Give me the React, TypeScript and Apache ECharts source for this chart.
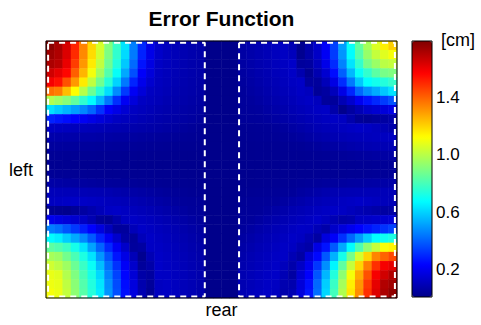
import React, { useEffect, useRef } from 'react';
import * as echarts from 'echarts';

// Error values [cm], rows from top to bottom.
// Left block: 19 columns (left edge -> left dashed boundary)
const leftBlock: number[][] = [
  [1.774, 1.722, 1.64, 1.508, 1.34, 1.195, 1.05, 0.905, 0.77, 0.63, 0.454, 0.3, 0.19, 0.135, 0.111, 0.1, 0.088, 0.079, 0.072],
  [1.738, 1.708, 1.629, 1.495, 1.329, 1.184, 1.04, 0.895, 0.762, 0.614, 0.444, 0.289, 0.19, 0.133, 0.111, 0.099, 0.088, 0.079, 0.072],
  [1.713, 1.69, 1.603, 1.461, 1.303, 1.158, 1.013, 0.868, 0.736, 0.583, 0.417, 0.264, 0.181, 0.124, 0.109, 0.098, 0.086, 0.078, 0.071],
  [1.652, 1.612, 1.558, 1.402, 1.253, 1.104, 0.959, 0.821, 0.689, 0.527, 0.369, 0.223, 0.166, 0.118, 0.106, 0.094, 0.084, 0.077, 0.07],
  [1.584, 1.541, 1.427, 1.303, 1.157, 1.013, 0.874, 0.744, 0.603, 0.443, 0.294, 0.196, 0.142, 0.113, 0.102, 0.09, 0.081, 0.074, 0.066],
  [1.375, 1.351, 1.238, 1.122, 0.993, 0.866, 0.749, 0.619, 0.474, 0.332, 0.213, 0.162, 0.118, 0.107, 0.096, 0.085, 0.078, 0.071, 0.064],
  [0.986, 0.95, 0.913, 0.846, 0.76, 0.674, 0.556, 0.437, 0.313, 0.211, 0.166, 0.12, 0.109, 0.099, 0.087, 0.08, 0.073, 0.066, 0.06],
  [0.626, 0.587, 0.547, 0.505, 0.466, 0.408, 0.317, 0.225, 0.188, 0.151, 0.118, 0.108, 0.097, 0.087, 0.08, 0.074, 0.067, 0.061, 0.054],
  [0.29, 0.271, 0.252, 0.233, 0.212, 0.188, 0.165, 0.142, 0.12, 0.111, 0.101, 0.092, 0.084, 0.078, 0.072, 0.066, 0.06, 0.054, 0.048],
  [0.12, 0.116, 0.112, 0.108, 0.104, 0.1, 0.096, 0.091, 0.087, 0.083, 0.078, 0.074, 0.07, 0.066, 0.06, 0.054, 0.048, 0.042, 0.037],
  [0.075, 0.074, 0.073, 0.072, 0.07, 0.069, 0.067, 0.064, 0.061, 0.058, 0.055, 0.052, 0.049, 0.046, 0.043, 0.04, 0.037, 0.035, 0.033],
  [0.052, 0.051, 0.05, 0.049, 0.048, 0.047, 0.046, 0.045, 0.044, 0.042, 0.04, 0.038, 0.036, 0.034, 0.032, 0.03, 0.029, 0.028, 0.027],
  [0.036, 0.036, 0.035, 0.035, 0.034, 0.034, 0.033, 0.033, 0.032, 0.031, 0.03, 0.029, 0.028, 0.027, 0.026, 0.025, 0.024, 0.024, 0.023],
  [0.028, 0.028, 0.028, 0.027, 0.027, 0.027, 0.026, 0.026, 0.026, 0.025, 0.025, 0.024, 0.024, 0.023, 0.023, 0.022, 0.022, 0.022, 0.021],
  [0.038, 0.037, 0.036, 0.035, 0.034, 0.033, 0.032, 0.031, 0.03, 0.03, 0.029, 0.028, 0.028, 0.027, 0.026, 0.025, 0.024, 0.023, 0.022],
  [0.068, 0.064, 0.06, 0.057, 0.054, 0.051, 0.048, 0.045, 0.043, 0.041, 0.039, 0.037, 0.035, 0.033, 0.031, 0.029, 0.028, 0.027, 0.026],
  [0.104, 0.102, 0.1, 0.098, 0.096, 0.093, 0.091, 0.086, 0.08, 0.074, 0.068, 0.062, 0.056, 0.05, 0.044, 0.04, 0.036, 0.033, 0.03],
  [0.114, 0.119, 0.124, 0.128, 0.126, 0.12, 0.114, 0.108, 0.103, 0.097, 0.091, 0.083, 0.075, 0.067, 0.058, 0.05, 0.044, 0.042, 0.04],
  [0.031, 0.026, 0.021, 0.037, 0.058, 0.079, 0.1, 0.121, 0.125, 0.117, 0.108, 0.1, 0.092, 0.083, 0.074, 0.064, 0.055, 0.045, 0.043],
  [0.198, 0.178, 0.161, 0.143, 0.124, 0.088, 0.045, 0.036, 0.076, 0.116, 0.124, 0.115, 0.107, 0.098, 0.089, 0.078, 0.068, 0.057, 0.047],
  [0.452, 0.428, 0.379, 0.331, 0.283, 0.231, 0.171, 0.11, 0.047, 0.049, 0.099, 0.126, 0.117, 0.108, 0.098, 0.089, 0.078, 0.067, 0.056],
  [0.675, 0.651, 0.59, 0.53, 0.47, 0.387, 0.294, 0.211, 0.138, 0.064, 0.044, 0.101, 0.125, 0.115, 0.105, 0.095, 0.085, 0.074, 0.063],
  [0.841, 0.818, 0.782, 0.714, 0.632, 0.516, 0.407, 0.302, 0.211, 0.132, 0.05, 0.059, 0.122, 0.121, 0.111, 0.101, 0.091, 0.08, 0.069],
  [0.967, 0.949, 0.878, 0.806, 0.726, 0.628, 0.495, 0.377, 0.268, 0.183, 0.1, 0.026, 0.092, 0.126, 0.116, 0.106, 0.096, 0.085, 0.074],
  [1.038, 1.005, 0.952, 0.863, 0.776, 0.691, 0.563, 0.426, 0.316, 0.217, 0.135, 0.046, 0.069, 0.129, 0.119, 0.109, 0.099, 0.089, 0.078],
  [1.086, 1.068, 0.987, 0.898, 0.805, 0.72, 0.61, 0.459, 0.347, 0.24, 0.156, 0.068, 0.053, 0.122, 0.121, 0.111, 0.101, 0.091, 0.079],
  [1.095, 1.083, 1.008, 0.917, 0.821, 0.734, 0.635, 0.483, 0.363, 0.251, 0.168, 0.081, 0.044, 0.114, 0.122, 0.112, 0.102, 0.092, 0.08],
  [1.109, 1.087, 1.016, 0.923, 0.828, 0.741, 0.646, 0.492, 0.37, 0.258, 0.172, 0.086, 0.037, 0.115, 0.122, 0.112, 0.102, 0.092, 0.08],
];

// Middle strip between the two dashed regions: 4 columns
const stripBlock: number[][] = [
  [0.016, 0.016, 0.016, 0.016], [0.016, 0.016, 0.016, 0.016], [0.016, 0.016, 0.016, 0.016], [0.016, 0.016, 0.016, 0.016],
  [0.016, 0.016, 0.016, 0.016], [0.016, 0.016, 0.016, 0.016], [0.016, 0.016, 0.016, 0.016], [0.016, 0.016, 0.016, 0.016],
  [0.016, 0.016, 0.016, 0.016], [0.016, 0.016, 0.016, 0.016], [0.016, 0.016, 0.016, 0.016], [0.016, 0.016, 0.016, 0.016],
  [0.016, 0.016, 0.016, 0.016], [0.016, 0.016, 0.016, 0.016], [0.016, 0.016, 0.016, 0.016], [0.016, 0.016, 0.016, 0.016],
  [0.016, 0.016, 0.016, 0.016], [0.016, 0.016, 0.016, 0.016], [0.016, 0.016, 0.016, 0.016], [0.016, 0.016, 0.016, 0.016],
  [0.016, 0.016, 0.016, 0.016], [0.016, 0.016, 0.016, 0.016], [0.016, 0.016, 0.016, 0.016], [0.016, 0.016, 0.016, 0.016],
  [0.016, 0.016, 0.016, 0.016], [0.016, 0.016, 0.016, 0.016], [0.016, 0.016, 0.016, 0.016], [0.016, 0.016, 0.016, 0.016],
];

// Right block: 19 columns (right dashed boundary -> right edge)
const rightBlock: number[][] = [
  [0.067, 0.079, 0.089, 0.1, 0.112, 0.123, 0.092, 0.025, 0.078, 0.134, 0.219, 0.346, 0.509, 0.689, 0.848, 0.967, 1.061, 1.148, 1.207],
  [0.063, 0.074, 0.085, 0.096, 0.109, 0.121, 0.108, 0.025, 0.07, 0.125, 0.211, 0.335, 0.494, 0.674, 0.823, 0.941, 1.019, 1.068, 1.106],
  [0.061, 0.072, 0.082, 0.093, 0.106, 0.118, 0.129, 0.048, 0.055, 0.108, 0.189, 0.306, 0.458, 0.631, 0.765, 0.884, 0.946, 1.002, 1.017],
  [0.057, 0.068, 0.079, 0.089, 0.101, 0.113, 0.125, 0.082, 0.031, 0.084, 0.144, 0.253, 0.398, 0.553, 0.691, 0.764, 0.837, 0.885, 0.898],
  [0.052, 0.063, 0.073, 0.084, 0.095, 0.107, 0.119, 0.125, 0.051, 0.05, 0.102, 0.182, 0.307, 0.443, 0.578, 0.679, 0.709, 0.739, 0.769],
  [0.046, 0.056, 0.067, 0.077, 0.088, 0.099, 0.11, 0.122, 0.109, 0.04, 0.056, 0.105, 0.184, 0.294, 0.41, 0.482, 0.532, 0.582, 0.631],
  [0.045, 0.049, 0.059, 0.069, 0.079, 0.09, 0.1, 0.112, 0.123, 0.109, 0.047, 0.046, 0.092, 0.14, 0.207, 0.262, 0.3, 0.335, 0.374],
  [0.043, 0.045, 0.05, 0.06, 0.07, 0.08, 0.09, 0.1, 0.11, 0.12, 0.126, 0.073, 0.02, 0.057, 0.094, 0.13, 0.148, 0.166, 0.183],
  [0.04, 0.042, 0.044, 0.049, 0.058, 0.068, 0.077, 0.087, 0.096, 0.106, 0.115, 0.124, 0.116, 0.078, 0.04, 0.032, 0.045, 0.059, 0.074],
  [0.03, 0.032, 0.034, 0.037, 0.041, 0.05, 0.06, 0.07, 0.08, 0.09, 0.098, 0.105, 0.113, 0.12, 0.127, 0.121, 0.107, 0.092, 0.078],
  [0.028, 0.03, 0.032, 0.034, 0.036, 0.039, 0.045, 0.053, 0.062, 0.071, 0.08, 0.088, 0.095, 0.099, 0.103, 0.107, 0.111, 0.115, 0.118],
  [0.026, 0.027, 0.028, 0.029, 0.03, 0.032, 0.034, 0.037, 0.041, 0.047, 0.054, 0.061, 0.068, 0.075, 0.081, 0.087, 0.09, 0.092, 0.094],
  [0.024, 0.025, 0.026, 0.027, 0.028, 0.029, 0.03, 0.031, 0.033, 0.035, 0.037, 0.04, 0.043, 0.047, 0.051, 0.055, 0.058, 0.062, 0.065],
  [0.022, 0.023, 0.024, 0.025, 0.026, 0.027, 0.028, 0.029, 0.03, 0.031, 0.032, 0.033, 0.034, 0.035, 0.036, 0.037, 0.038, 0.039, 0.04],
  [0.023, 0.024, 0.025, 0.026, 0.027, 0.028, 0.029, 0.03, 0.031, 0.032, 0.033, 0.034, 0.035, 0.036, 0.037, 0.038, 0.039, 0.04, 0.041],
  [0.026, 0.027, 0.029, 0.031, 0.033, 0.035, 0.037, 0.04, 0.043, 0.046, 0.049, 0.052, 0.055, 0.058, 0.061, 0.064, 0.066, 0.068, 0.07],
  [0.03, 0.032, 0.034, 0.036, 0.038, 0.041, 0.044, 0.054, 0.063, 0.072, 0.081, 0.089, 0.091, 0.093, 0.095, 0.097, 0.098, 0.099, 0.1],
  [0.037, 0.039, 0.041, 0.043, 0.046, 0.056, 0.066, 0.076, 0.086, 0.094, 0.101, 0.107, 0.114, 0.12, 0.127, 0.12, 0.112, 0.105, 0.1],
  [0.04, 0.042, 0.044, 0.053, 0.064, 0.075, 0.086, 0.095, 0.103, 0.112, 0.12, 0.128, 0.12, 0.107, 0.094, 0.082, 0.069, 0.061, 0.065],
  [0.044, 0.046, 0.057, 0.069, 0.08, 0.091, 0.1, 0.11, 0.119, 0.129, 0.112, 0.092, 0.071, 0.081, 0.121, 0.128, 0.137, 0.146, 0.155],
  [0.047, 0.059, 0.071, 0.083, 0.094, 0.104, 0.114, 0.124, 0.121, 0.096, 0.071, 0.131, 0.167, 0.201, 0.234, 0.262, 0.289, 0.317, 0.345],
  [0.058, 0.07, 0.082, 0.094, 0.104, 0.114, 0.125, 0.116, 0.088, 0.06, 0.168, 0.221, 0.315, 0.412, 0.504, 0.591, 0.676, 0.7, 0.724],
  [0.068, 0.08, 0.092, 0.102, 0.113, 0.124, 0.118, 0.087, 0.07, 0.18, 0.263, 0.387, 0.526, 0.675, 0.812, 0.931, 1.021, 1.111, 1.14],
  [0.076, 0.088, 0.099, 0.11, 0.121, 0.126, 0.094, 0.063, 0.164, 0.244, 0.386, 0.542, 0.714, 0.882, 1.047, 1.197, 1.338, 1.395, 1.443],
  [0.081, 0.093, 0.104, 0.115, 0.126, 0.108, 0.075, 0.126, 0.201, 0.327, 0.482, 0.662, 0.842, 1.022, 1.194, 1.348, 1.485, 1.584, 1.609],
  [0.086, 0.098, 0.109, 0.12, 0.128, 0.094, 0.06, 0.149, 0.227, 0.38, 0.552, 0.737, 0.924, 1.107, 1.269, 1.427, 1.581, 1.648, 1.701],
  [0.089, 0.1, 0.111, 0.122, 0.119, 0.085, 0.081, 0.162, 0.255, 0.413, 0.593, 0.777, 0.965, 1.148, 1.307, 1.471, 1.612, 1.703, 1.73],
  [0.09, 0.102, 0.113, 0.124, 0.114, 0.08, 0.09, 0.167, 0.266, 0.424, 0.608, 0.794, 0.983, 1.163, 1.32, 1.487, 1.626, 1.713, 1.758],
];

// Dashed regions, in cell units (x: columns from left, y: rows from top)
const regionX: number[][] = [[0.25, 19.0], [23.1, 41.75]];
const regionY: number[][] = [[0.2, 27.85], [0.2, 27.85]];

const colorbarTicks = [0.2, 0.6, 1.0, 1.4];
const colorRange = [0.01, 1.79];
const jet = ['#000088', '#0000ff', '#0080ff', '#00ffff', '#80ff80', '#ffff00', '#ff8000', '#ff0000', '#800000'];

const FONT = 'Liberation Sans, Arial, Helvetica, sans-serif';

export default function App() {
  const ref = useRef<HTMLDivElement>(null);
  useEffect(() => {
    if (!ref.current) return;
    const chart = echarts.init(ref.current, null, { renderer: 'svg' });
    const rows = leftBlock.map((l, j) => [...l, ...stripBlock[j], ...rightBlock[j]]);
    const nRows = rows.length;
    const nCols = rows[0].length;
    const data: number[][] = [];
    rows.forEach((r, j) => r.forEach((v, i) => data.push([i, j, v])));
    const colLabels = rows[0].map((_, i) => String(i));
    const rowLabels = rows.map((_, j) => String(j));

    const rectSeries = regionX.map((xr, k) => {
      const yr = regionY[k];
      return {
        type: 'line',
        xAxisIndex: 1,
        yAxisIndex: 1,
        symbol: 'none',
        silent: true,
        z: 5,
        lineStyle: { color: '#ffffff', width: 2, type: [6, 5] },
        data: [
          [xr[0], yr[0]], [xr[1], yr[0]], [xr[1], yr[1]], [xr[0], yr[1]], [xr[0], yr[0]],
        ],
      };
    });

    const option: any = {
      animation: false,
      backgroundColor: '#ffffff',
      textStyle: { fontFamily: FONT, color: '#000' },
      title: {
        text: 'Error Function',
        left: 221.5,
        top: 8,
        textAlign: 'center',
        padding: 0,
        textStyle: { fontFamily: FONT, fontSize: 21, fontWeight: 'bold', color: '#000' },
      },
      grid: [
        { left: 46, top: 41, width: 351, height: 257, show: true, z: 10, borderColor: '#000', borderWidth: 1, backgroundColor: 'transparent' },
        { left: 412, top: 41, width: 20, height: 256, show: true, z: 10, borderColor: '#000', borderWidth: 1, backgroundColor: 'transparent' },
      ],
      xAxis: [
        {
          type: 'category', gridIndex: 0, data: colLabels,
          axisLine: { show: false }, axisTick: { show: false }, axisLabel: { show: false }, splitLine: { show: false },
          name: 'rear', nameLocation: 'middle', nameGap: 3,
          nameTextStyle: { fontFamily: FONT, fontSize: 18, color: '#000', verticalAlign: 'top' },
        },
        { type: 'value', gridIndex: 0, min: 0, max: nCols, show: false },
        { type: 'category', gridIndex: 1, data: ['c'], show: false },
      ],
      yAxis: [
        {
          type: 'category', gridIndex: 0, data: rowLabels, inverse: true,
          axisLine: { show: false }, axisTick: { show: false }, axisLabel: { show: false }, splitLine: { show: false },
          name: 'left', nameLocation: 'middle', nameRotate: 0, nameGap: 13,
          nameTextStyle: { fontFamily: FONT, fontSize: 18, color: '#000' },
        },
        { type: 'value', gridIndex: 0, min: 0, max: nRows, inverse: true, show: false },
        {
          type: 'value', gridIndex: 1, min: colorRange[0], max: colorRange[1], position: 'right',
          axisLine: { show: false },
          splitLine: { show: false },
          axisTick: { show: true, inside: true, length: 3, customValues: colorbarTicks, lineStyle: { color: '#000' } },
          axisLabel: {
            show: true, margin: 4, customValues: colorbarTicks, fontFamily: FONT, fontSize: 17, color: '#000',
            formatter: (v: number) => v.toFixed(1),
          },
          name: '[cm]', nameLocation: 'end', nameGap: 1,
          nameTextStyle: { fontFamily: FONT, fontSize: 18, color: '#000', align: 'left', verticalAlign: 'middle', padding: [0, 0, 0, 9] },
        },
      ],
      visualMap: {
        type: 'continuous',
        min: colorRange[0],
        max: colorRange[1],
        seriesIndex: 0,
        calculable: false,
        orient: 'vertical',
        left: 412,
        top: 41,
        itemWidth: 20,
        itemHeight: 256,
        padding: 0,
        inRange: { color: jet },
        hoverLink: false,
      },
      series: [
        {
          type: 'heatmap',
          xAxisIndex: 0,
          yAxisIndex: 0,
          data,
          progressive: 0,
          emphasis: { disabled: true },
          itemStyle: { borderWidth: 0 },
        },
        ...rectSeries,
      ],
    };
    chart.setOption(option);
    return () => chart.dispose();
  }, []);
  return <div ref={ref} style={{ position: 'fixed', left: 0, top: 0, width: 481, height: 325 }} />;
}
